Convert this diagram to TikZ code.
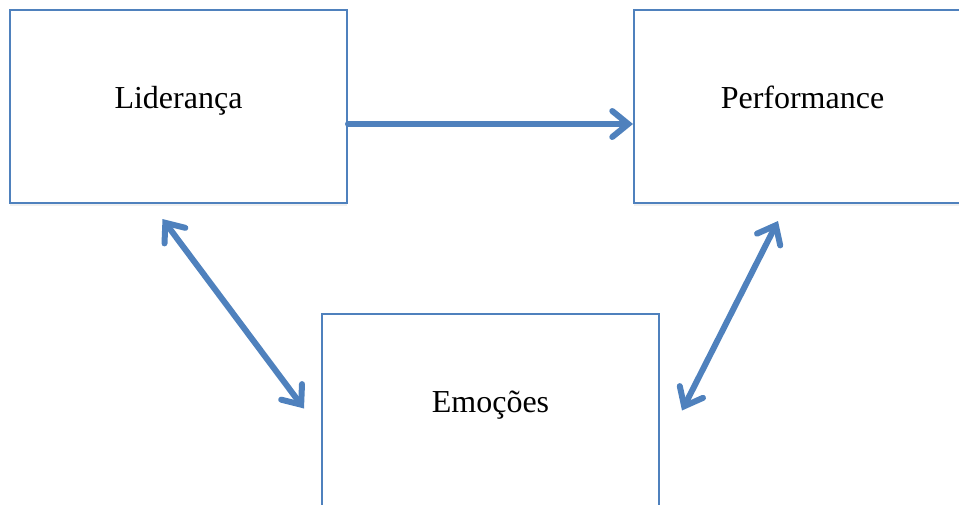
\documentclass[tikz,border=0pt]{standalone}
\usepackage{fontspec}
\setmainfont{Liberation Serif}
\usetikzlibrary{arrows.meta,shadows}
\definecolor{boxblue}{HTML}{4F81BD}

\tikzset{
  fbox/.style={draw=boxblue, line width=2pt, fill=white,
    minimum width=337pt, minimum height=193pt, inner sep=0pt,
    drop shadow={opacity=0.12, shadow xshift=0pt, shadow yshift=-3pt}},
  blabel/.style={font=\fontsize{32}{36}\selectfont, text height=0pt, text depth=0pt, yshift=-1.5pt},
  link/.style={draw=boxblue, line width=6pt, line cap=round,
    arrows={Straight Barb[length=16pt,width=26pt,line cap=round]-Straight Barb[length=16pt,width=26pt,line cap=round]}},
  onelink/.style={link, arrows={-Straight Barb[length=16pt,width=26pt,line cap=round]}}
}

\begin{document}
\begin{tikzpicture}[x=1pt,y=-1pt]
  \useasboundingbox (0,0) rectangle (959,504);
  \clip (0,0) rectangle (959,504);
  % the three boxes
  \node[fbox, label={[blabel]center:Liderança}] (lid) at (178.5,106.5) {};
  \node[fbox, label={[blabel]center:Performance}] (perf) at (802.5,106.5) {};
  \node[fbox, label={[blabel]center:Emoções}] (emo) at (490.5,410.5) {};
  % connectors
  \draw[onelink] ([yshift=-17.5pt]lid.east) -- ([yshift=-17.5pt]perf.west);
  \draw[link] ([xshift=-16pt,yshift=-15pt]lid.south) -- ([xshift=-17pt,yshift=2pt]emo.west);
  \draw[link] ([xshift=-24.5pt,yshift=-17pt]perf.south) -- ([xshift=22pt,yshift=0pt]emo.east);
\end{tikzpicture}
\end{document}
